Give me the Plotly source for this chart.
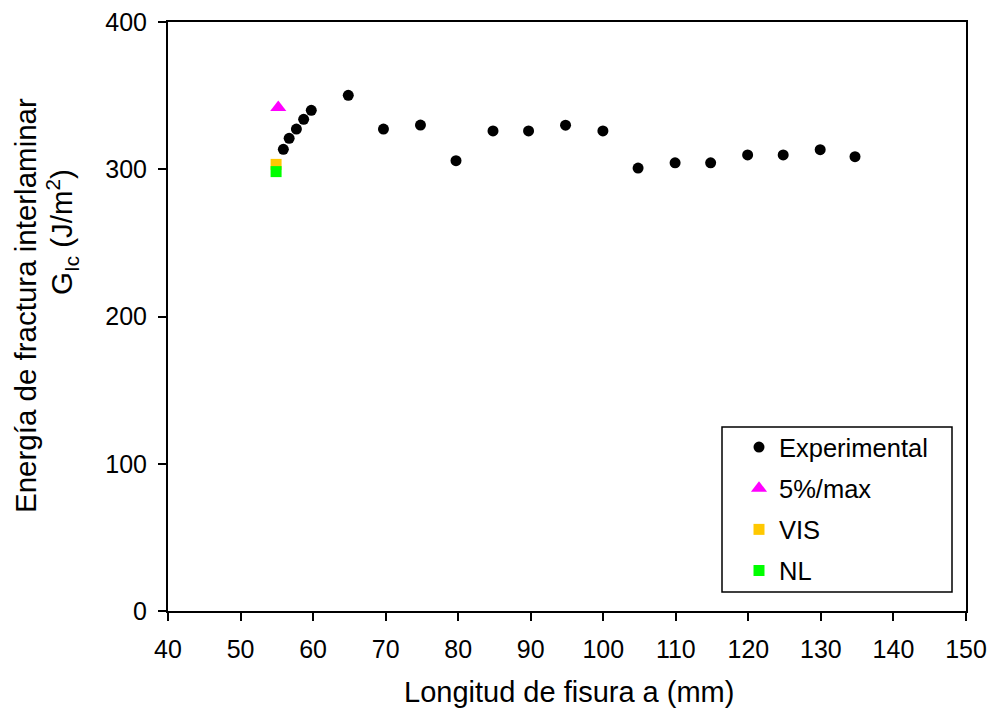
import plotly.graph_objects as go

# Data
exp_a = [55.9, 56.7, 57.7, 58.7, 59.75, 64.85, 69.7, 74.8, 79.7, 84.8, 89.7, 94.8,
         99.95, 104.8, 109.9, 114.8, 119.9, 124.8, 129.9, 134.7]
exp_g = [313.5, 321, 327.3, 333.9, 340, 350.2, 327.3, 330, 305.8, 326, 326, 329.9,
         326, 300.8, 304.4, 304.4, 309.7, 309.7, 313.3, 308.5]
max_a = [55.2]
max_g = [342]
vis_a = [54.9]
vis_g = [303.3]
nl_a = [54.9]
nl_g = [298.4]

x_ticks = [40, 50, 60, 70, 80, 90, 100, 110, 120, 130, 140, 150]
y_ticks = [0, 100, 200, 300, 400]

FONT = "Liberation Sans, Arial, sans-serif"

# plot-area pixel geometry (used only to place texts/frames in paper coords)
L, R, T, B = 168, 966, 22, 611
W, H = R - L, B - T


def px(x):
    return (x - L) / W


def py(y):
    return (B - y) / H


fig = go.Figure()
fig.add_trace(go.Scatter(x=exp_a, y=exp_g, mode="markers", name="Experimental",
                         legendgroup="a",
                         marker=dict(symbol="circle", size=11, color="black")))
fig.add_trace(go.Scatter(x=max_a, y=max_g, mode="markers", name="5%/max",
                         legendgroup="b",
                         marker=dict(symbol="triangle-up", size=14, color="#ff00ff")))
fig.add_trace(go.Scatter(x=vis_a, y=vis_g, mode="markers", name="VIS",
                         legendgroup="c",
                         marker=dict(symbol="square", size=11, color="#ffc800")))
fig.add_trace(go.Scatter(x=nl_a, y=nl_g, mode="markers", name="NL",
                         legendgroup="d",
                         marker=dict(symbol="square", size=11, color="#00ff00")))

axis_common = dict(showgrid=False, zeroline=False, showline=True, linecolor="black",
                   linewidth=2, mirror=True, ticks="outside", ticklen=8, tickwidth=2,
                   tickcolor="black", automargin=False,
                   tickfont=dict(family=FONT, size=25, color="black"))

fig.update_xaxes(range=[40, 150], tickvals=x_ticks, ticklabelstandoff=7, **axis_common)
fig.update_yaxes(range=[0, 400], tickvals=y_ticks, ticklabelstandoff=6, **axis_common)

fig.update_layout(
    width=992, height=715,
    margin=dict(l=L, r=992 - R, t=T, b=715 - B),
    paper_bgcolor="white", plot_bgcolor="white",
    font=dict(family=FONT, color="black"),
    showlegend=True,
    legend=dict(x=px(739), y=py(424), xanchor="left", yanchor="top",
                borderwidth=0, bgcolor="rgba(0,0,0,0)",
                font=dict(family=FONT, size=25.5, color="black"),
                traceorder="grouped", tracegroupgap=5),
    shapes=[dict(type="rect", xref="paper", yref="paper",
                 x0=px(722), x1=px(952), y0=py(592), y1=py(427),
                 line=dict(color="black", width=1.5), fillcolor="rgba(0,0,0,0)",
                 layer="below")],
    annotations=[
        dict(text="Energía de fractura interlaminar", textangle=-90, showarrow=False,
             xref="paper", yref="paper", x=px(25), y=py(306),
             xanchor="center", yanchor="middle", font=dict(family=FONT, size=29.5)),
        dict(text="G<sub>Ic</sub> (J/m<sup>2</sup>)", textangle=-90, showarrow=False,
             xref="paper", yref="paper", x=px(62), y=py(232),
             xanchor="center", yanchor="middle", font=dict(family=FONT, size=29.5)),
        dict(text="Longitud de fisura a (mm)", showarrow=False,
             xref="paper", yref="paper", x=px(569), y=py(692),
             xanchor="center", yanchor="middle", font=dict(family=FONT, size=29)),
    ],
)

fig.write_html("out.html")
